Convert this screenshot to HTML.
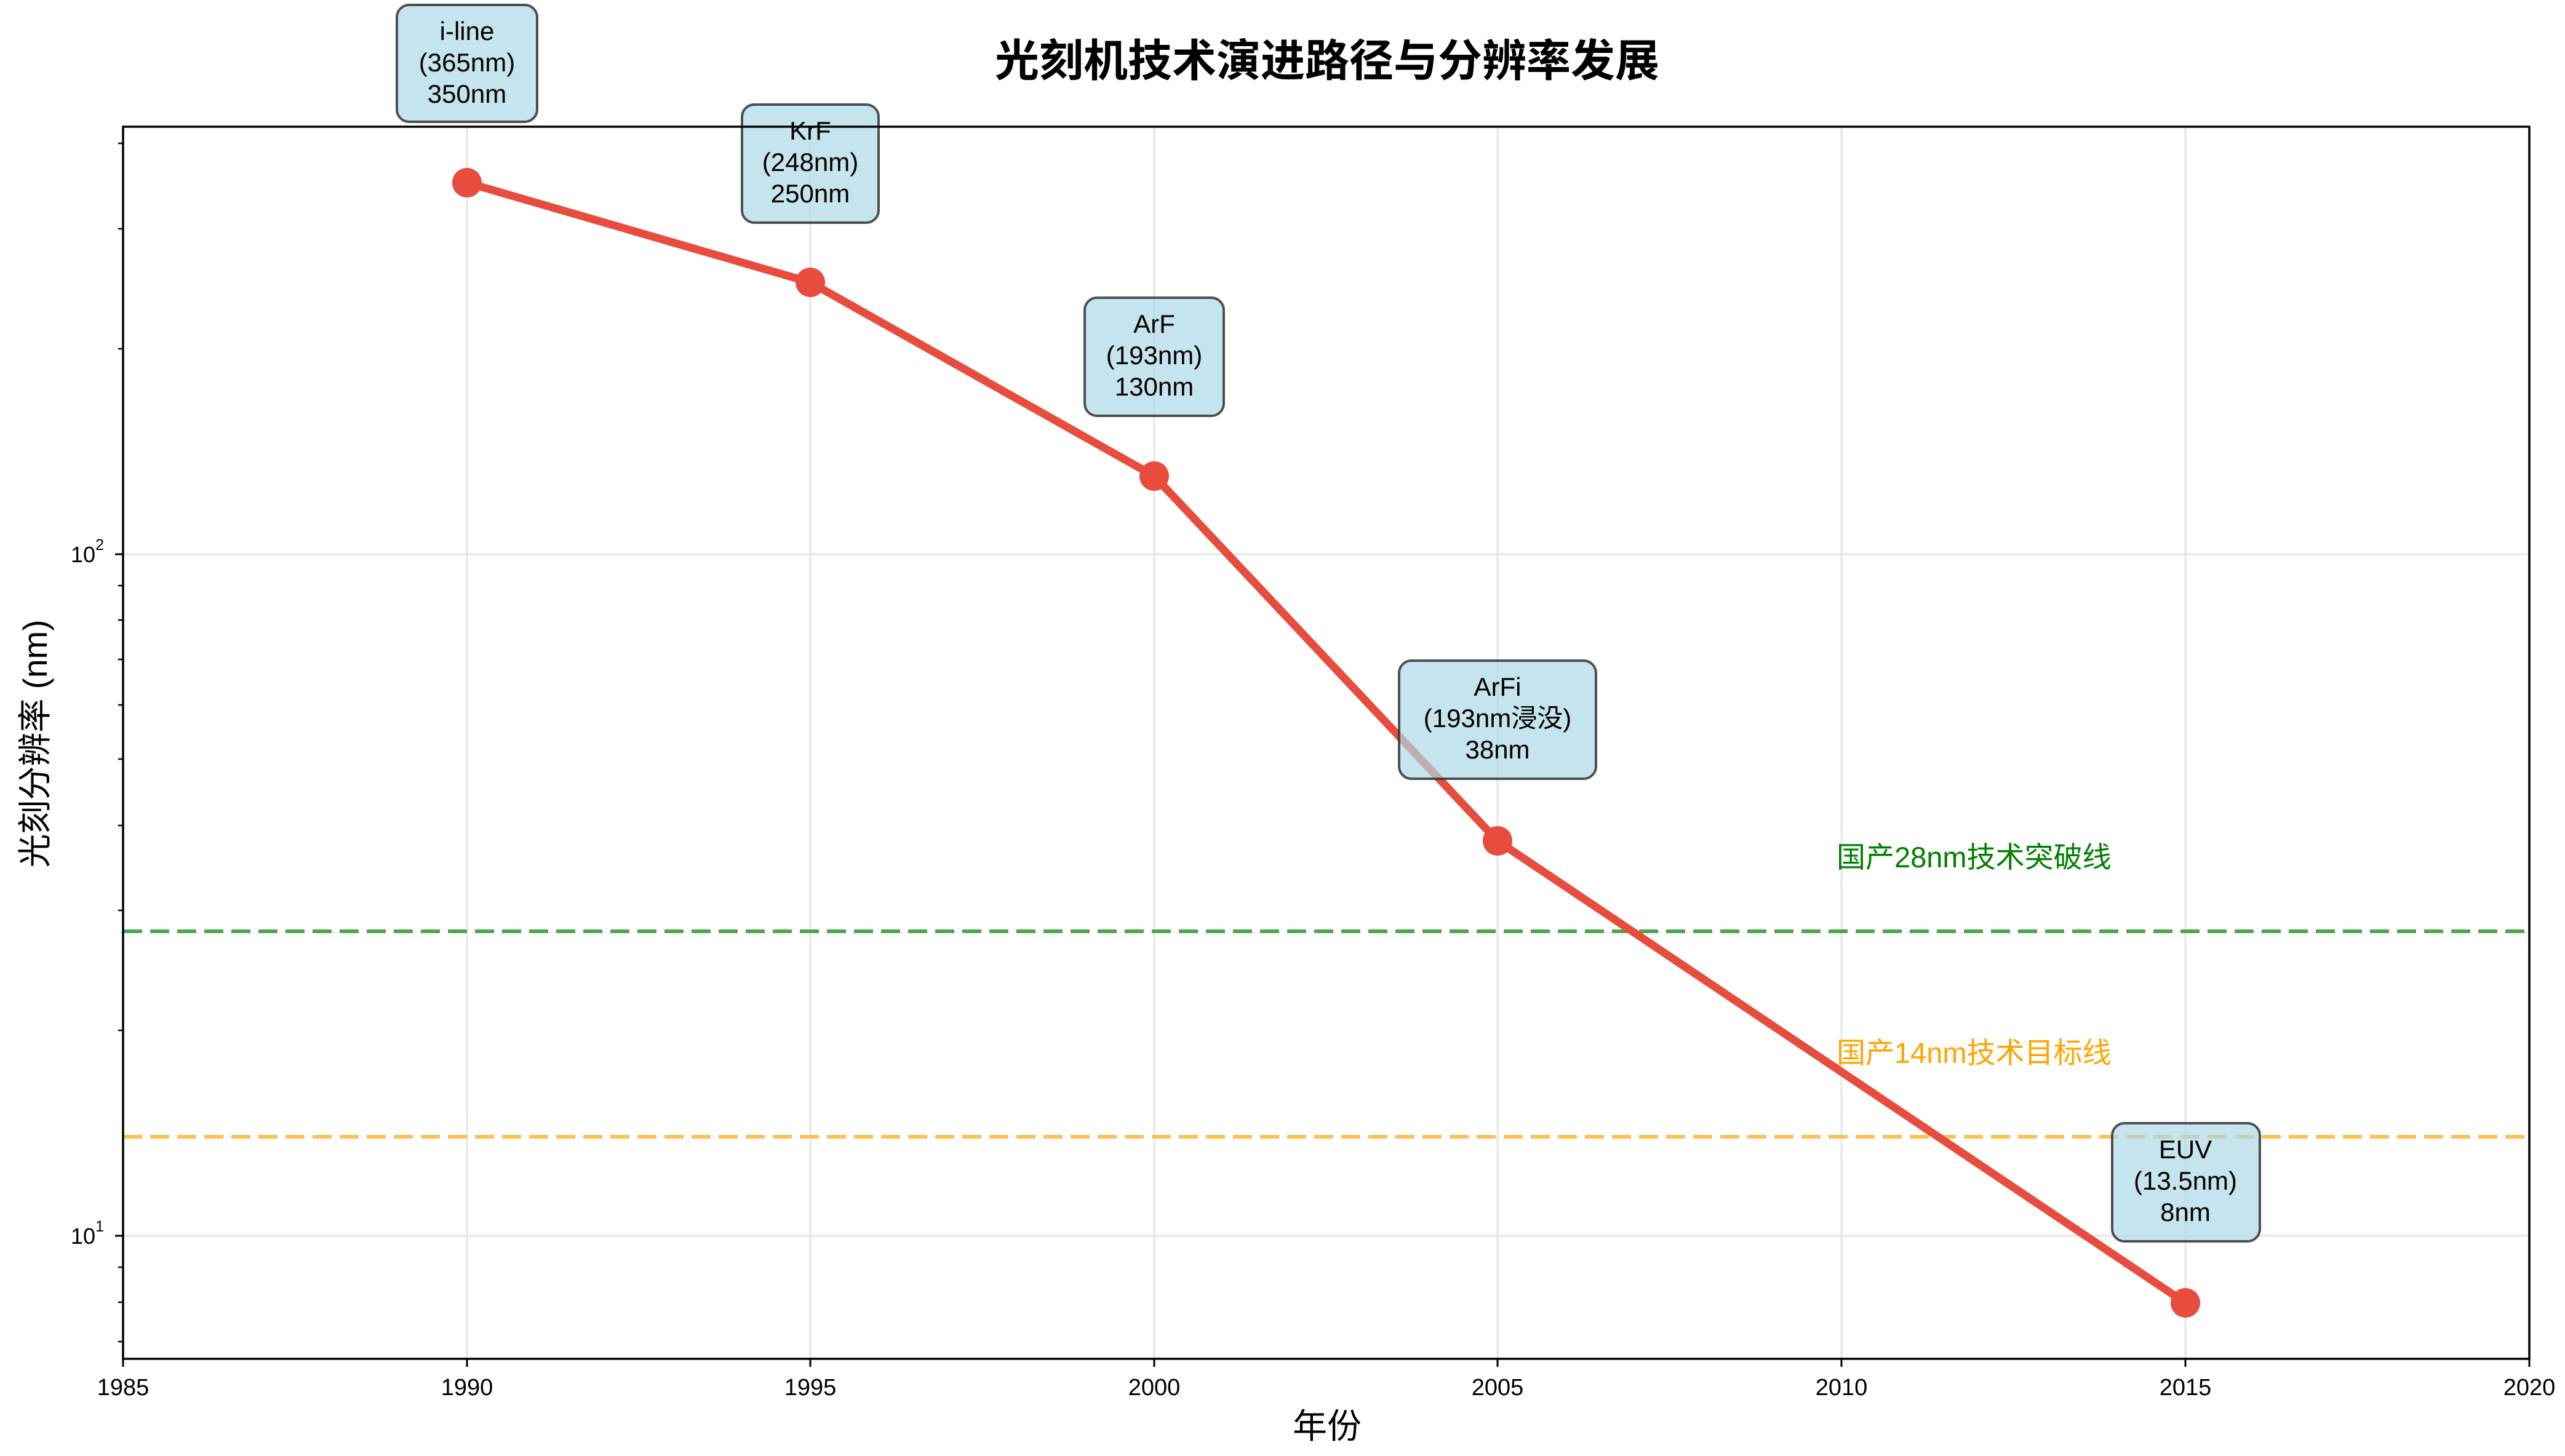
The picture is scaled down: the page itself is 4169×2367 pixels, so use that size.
<!DOCTYPE html>
<html><head><meta charset="utf-8"><style>
html,body{margin:0;padding:0;background:#fff;}
svg{display:block;}
text{font-family:"Liberation Sans","Noto Sans CJK SC",sans-serif;}
</style></head><body>
<svg width="4169" height="2367" viewBox="0 0 4169 2367" xmlns="http://www.w3.org/2000/svg">
<rect width="4169" height="2367" fill="#fff"/>
<g stroke="#e6e6e6" stroke-width="3">
<line x1="759" y1="206" x2="759" y2="2209"/>
<line x1="1317" y1="206" x2="1317" y2="2209"/>
<line x1="1876" y1="206" x2="1876" y2="2209"/>
<line x1="2434" y1="206" x2="2434" y2="2209"/>
<line x1="2993" y1="206" x2="2993" y2="2209"/>
<line x1="3552" y1="206" x2="3552" y2="2209"/>
<line x1="200" y1="901" x2="4111" y2="901"/>
<line x1="200" y1="2009" x2="4111" y2="2009"/>
</g>
<line x1="200" y1="1514" x2="4111" y2="1514" stroke="#4ca64c" stroke-width="6" stroke-dasharray="31,13"/>
<line x1="200" y1="1848" x2="4111" y2="1848" stroke="#ffc04d" stroke-width="6" stroke-dasharray="31,13"/>
<text x="2985" y="1410" font-size="47" fill="#008000">国产28nm技术突破线</text>
<text x="2985" y="1728" font-size="47" fill="#ffa500">国产14nm技术目标线</text>
<polyline points="759,297 1317,459 1876,774 2434,1367 3552,2118" fill="none" stroke="#e74c3c" stroke-width="13" stroke-linejoin="round"/>
<g fill="#e74c3c">
<circle cx="759" cy="297" r="24"/><circle cx="1317" cy="459" r="24"/><circle cx="1876" cy="774" r="24"/><circle cx="2434" cy="1367" r="24"/><circle cx="3552" cy="2118" r="24"/>
</g>
<g fill="#add8e6" fill-opacity="0.7" stroke="#333" stroke-opacity="0.85" stroke-width="4">
<rect x="645" y="8" width="228" height="190" rx="20"/>
<rect x="1206" y="170" width="222" height="192" rx="20"/>
<rect x="1763" y="484" width="226" height="192" rx="20"/>
<rect x="2274" y="1074" width="320" height="192" rx="20"/>
<rect x="3433" y="1826" width="240" height="192" rx="20"/>
</g>
<g font-size="42" text-anchor="middle" fill="#000">
<text x="759" y="65">i-line</text><text x="759" y="116">(365nm)</text><text x="759" y="167">350nm</text>
<text x="1317" y="227">KrF</text><text x="1317" y="278">(248nm)</text><text x="1317" y="329">250nm</text>
<text x="1876" y="541">ArF</text><text x="1876" y="592">(193nm)</text><text x="1876" y="643">130nm</text>
<text x="2434" y="1131">ArFi</text><text x="2434" y="1182">(193nm浸没)</text><text x="2434" y="1233">38nm</text>
<text x="3552" y="1883">EUV</text><text x="3552" y="1934">(13.5nm)</text><text x="3552" y="1985">8nm</text>
</g>
<rect x="200" y="206" width="3911" height="2003" fill="none" stroke="#000" stroke-width="3.5"/>
<g stroke="#000" stroke-width="3">
<line x1="200" y1="2209" x2="200" y2="2222"/><line x1="759" y1="2209" x2="759" y2="2222"/><line x1="1317" y1="2209" x2="1317" y2="2222"/><line x1="1876" y1="2209" x2="1876" y2="2222"/><line x1="2434" y1="2209" x2="2434" y2="2222"/><line x1="2993" y1="2209" x2="2993" y2="2222"/><line x1="3552" y1="2209" x2="3552" y2="2222"/><line x1="4111" y1="2209" x2="4111" y2="2222"/>
<line x1="187" y1="901" x2="200" y2="901"/><line x1="187" y1="2009" x2="200" y2="2009"/>
</g>
<g stroke="#000" stroke-width="2.5">
<line x1="192" y1="1675" x2="200" y2="1675"/><line x1="192" y1="1480" x2="200" y2="1480"/><line x1="192" y1="1342" x2="200" y2="1342"/><line x1="192" y1="1234" x2="200" y2="1234"/><line x1="192" y1="1146" x2="200" y2="1146"/><line x1="192" y1="1072" x2="200" y2="1072"/><line x1="192" y1="1008" x2="200" y2="1008"/><line x1="192" y1="952" x2="200" y2="952"/>
<line x1="192" y1="567" x2="200" y2="567"/><line x1="192" y1="372" x2="200" y2="372"/><line x1="192" y1="233" x2="200" y2="233"/>
<line x1="192" y1="2060" x2="200" y2="2060"/><line x1="192" y1="2117" x2="200" y2="2117"/><line x1="192" y1="2181" x2="200" y2="2181"/>
</g>
<g font-size="38" text-anchor="middle" fill="#000">
<text x="200" y="2268">1985</text><text x="759" y="2268">1990</text><text x="1317" y="2268">1995</text><text x="1876" y="2268">2000</text><text x="2434" y="2268">2005</text><text x="2993" y="2268">2010</text><text x="3552" y="2268">2015</text><text x="4111" y="2268">2020</text>
</g>
<g font-size="36" text-anchor="end" fill="#000">
<text x="155" y="914">10</text><text x="169" y="894" font-size="25">2</text>
<text x="155" y="2022">10</text><text x="169" y="2002" font-size="25">1</text>
</g>
<text x="2157" y="2338" font-size="56" text-anchor="middle">年份</text>
<text transform="translate(76,1209) rotate(-90)" font-size="55" text-anchor="middle">光刻分辨率 (nm)</text>
<text x="2157" y="124" font-size="72" font-weight="bold" text-anchor="middle">光刻机技术演进路径与分辨率发展</text>
</svg>
</body></html>
